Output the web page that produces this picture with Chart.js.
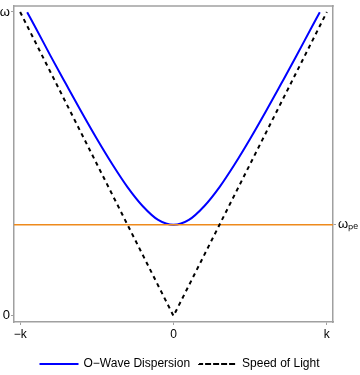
<!DOCTYPE html>
<html>
<head>
<meta charset="utf-8">
<script src="https://cdn.jsdelivr.net/npm/chart.js@4"></script>
<style>
  html, body { margin: 0; padding: 0; background: #fff; }
  #wrap { width: 360px; height: 375px; }
</style>
</head>
<body>
<div id="wrap"><canvas id="dispersion"></canvas></div>
<script>
// values (k in units of k, omega in units of omega)
const waveK = [-0.954, -0.9, -0.8, -0.7, -0.6, -0.5, -0.4, -0.3, -0.2, -0.1, 0, 0.1, 0.2, 0.3, 0.4, 0.5, 0.6, 0.7, 0.8, 0.9, 0.954];
const waveOmega = [0.999, 0.949, 0.854, 0.762, 0.671, 0.583, 0.5, 0.424, 0.361, 0.316, 0.3, 0.316, 0.361, 0.424, 0.5, 0.583, 0.671, 0.762, 0.854, 0.949, 0.999];
const lightK = [-1, 0, 1];
const lightOmega = [1, 0, 1];
const plasmaK = [-1.04, 1.04];
const plasmaOmega = [0.3, 0.3];

const xTicks = [-1, 0, 1];
const xTickLabels = ["\u2212k", "0", "k"];
const yTicks = [0, 1];
const yTickLabels = ["0", "\u03c9"];
const rightTicks = [0.3];
const rightTickLabels = ["\u03c9\u209a\u2091"];

const frameColor = "#a0a0a0";
const font = { family: "'Liberation Sans', Arial, sans-serif", size: 12 };
const symFont = { family: "'Liberation Sans', Arial, sans-serif", size: 13, lineHeight: 0.6 };

function pairs(xs, ys) {
    return xs.map((x, i) => ({ x: x, y: ys[i] }));
}

// nudge the legend a few pixels lower, like the original
const legendShift = {
    id: "legendShift",
    afterLayout(chart) {
        chart.legend.top += 5;
        chart.legend.bottom += 5;
    },
};

// top edge of the frame
const frameTop = {
    id: "frameTop",
    afterDraw(chart) {
        const { left, right, top } = chart.chartArea;
        const c = chart.ctx;
        c.save();
        c.strokeStyle = frameColor;
        c.lineWidth = 1.5;
        c.beginPath();
        c.moveTo(left - 0.75, top);
        c.lineTo(right + 0.75, top);
        c.stroke();
        c.restore();
    },
};

const ctx = document.getElementById("dispersion");
new Chart(ctx, {
    type: "line",
    data: {
        datasets: [
            {
                label: "O\u2212Wave Dispersion",
                data: pairs(waveK, waveOmega),
                borderColor: "#0000ff",
                backgroundColor: "rgba(0,0,0,0)",
                borderWidth: 2,
                pointRadius: 0,
                cubicInterpolationMode: "monotone",
                order: 2,
            },
            {
                label: "Speed of Light",
                data: pairs(lightK, lightOmega),
                borderColor: "#000000",
                backgroundColor: "rgba(0,0,0,0)",
                borderWidth: 2,
                borderDash: [4, 4],
                pointRadius: 0,
                order: 0,
            },
            {
                label: "plasma",
                data: pairs(plasmaK, plasmaOmega),
                borderColor: "#ee8a1c",
                borderWidth: 1.5,
                pointRadius: 0,
                order: 1,
            },
        ],
    },
    plugins: [legendShift, frameTop],
    options: {
        responsive: true,
        maintainAspectRatio: false,
        animation: false,
        layout: { padding: { top: 0, bottom: 0 } },
        plugins: {
            tooltip: { enabled: false },
            legend: {
                position: "bottom",
                labels: {
                    color: "#000",
                    font: font,
                    boxWidth: 37,
                    boxHeight: 0.01,
                    padding: 9,
                    filter: (item) => item.datasetIndex < 2,
                    sort: (a, b) => a.datasetIndex - b.datasetIndex,
                },
            },
        },
        scales: {
            x: {
                type: "linear",
                min: -1.04,
                max: 1.04,
                afterBuildTicks: (s) => { s.ticks = xTicks.map((v) => ({ value: v })); },
                ticks: {
                    color: "#000",
                    font: font,
                    padding: 2,
                    maxRotation: 0,
                    callback: (v) => xTickLabels[xTicks.indexOf(v)],
                },
                grid: { drawOnChartArea: false, tickLength: 3, color: frameColor },
                border: { color: frameColor, width: 1.5 },
                afterFit: (s) => { s.height = 22; },
            },
            y: {
                type: "linear",
                min: -0.02,
                max: 1.02,
                afterBuildTicks: (s) => { s.ticks = yTicks.map((v) => ({ value: v })); },
                ticks: {
                    color: "#000",
                    font: symFont,
                    padding: 1,
                    callback: (v) => yTickLabels[yTicks.indexOf(v)],
                },
                grid: { drawOnChartArea: false, tickLength: 3, color: frameColor },
                border: { color: frameColor, width: 1.5 },
                afterFit: (s) => { s.width = 14; },
            },
            yRight: {
                type: "linear",
                position: "right",
                min: -0.02,
                max: 1.02,
                afterBuildTicks: (s) => { s.ticks = rightTicks.map((v) => ({ value: v })); },
                ticks: {
                    color: "#000",
                    font: symFont,
                    padding: 2,
                    callback: (v) => rightTickLabels[rightTicks.indexOf(v)],
                },
                grid: { drawOnChartArea: false, tickLength: 3, color: frameColor },
                border: { color: frameColor, width: 1.5 },
                afterFit: (s) => { s.width = 27; },
            },
        },
    },
});
</script>
</body>
</html>
